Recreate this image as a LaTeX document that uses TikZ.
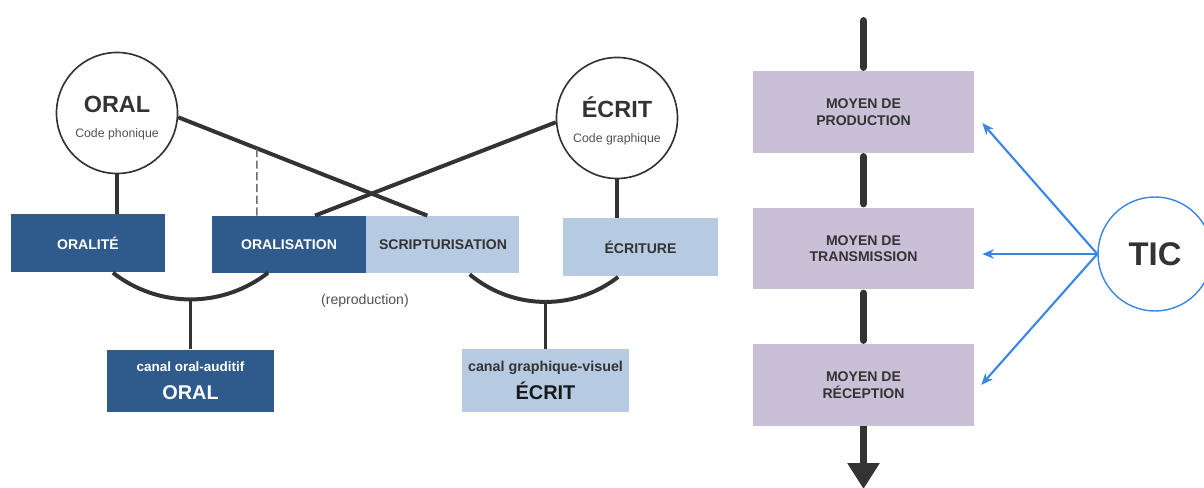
\documentclass[tikz,border=0pt]{standalone}
\usepackage{fontspec}
\setmainfont{Liberation Sans}
\usetikzlibrary{intersections,calc,arrows.meta}
\tikzset{>=Stealth}
\definecolor{darkbox}{RGB}{47,90,140}
\definecolor{lightbox}{RGB}{182,202,226}
\definecolor{mauve}{RGB}{201,192,215}
\definecolor{ink}{RGB}{51,51,51}
\definecolor{ticblue}{RGB}{58,134,232}

\begin{document}
\begin{tikzpicture}[x=0.03cm,y=-0.03cm,
  code/.style={circle,draw=ink,fill=white,line width=1.4pt,minimum size=3.63cm,inner sep=0pt,align=center,text=ink,font=\fontsize{10.5}{21}\selectfont},
  dbox/.style={fill=darkbox,text=white,minimum width=4.62cm,minimum height=1.72cm,inner sep=0pt,font=\bfseries\fontsize{12}{14}\selectfont},
  lbox/.style={dbox,fill=lightbox,text=ink},
  canal/.style={minimum width=5.01cm,minimum height=1.88cm,inner sep=0pt,align=center,font=\bfseries\fontsize{12}{24}\selectfont},
  moyen/.style={fill=mauve,text=ink,minimum width=6.63cm,minimum height=2.45cm,align=center,font=\bfseries\fontsize{12}{14}\selectfont},
  link/.style={line width=3.4pt,draw=ink},
  bar/.style={line width=6.6pt,draw=ink,line cap=round},
  ticarrow/.style={line width=1.8pt,draw=ticblue,->,>={Stealth[length=10pt,width=8pt]}}]
\useasboundingbox[fill=white] (0,0) rectangle (1204,488);

\node[code] (oral) at (117,113) {\rule{0pt}{23pt}{\bfseries\fontsize{20}{22}\selectfont ORAL}\\{\color{ink!85}Code phonique}};
\node[code] (ecrit) at (617,118) {\rule{0pt}{23pt}{\bfseries\fontsize{20}{22}\selectfont ÉCRIT}\\{\color{ink!85}Code graphique}};

\node[dbox] (oralite) at (88,243) {ORALITÉ};
\node[dbox] (oralis) at (289,244.5) {ORALISATION};
\node[lbox,anchor=west,minimum width=4.59cm] (script) at (oralis.east) {SCRIPTURISATION};
\node[lbox,minimum width=4.65cm,minimum height=1.74cm] (ecriture) at (640.5,247) {ÉCRITURE};

\node[canal,fill=darkbox,text=white] (canaloral) at (190.5,381) {{\fontsize{11.5}{13}\selectfont canal oral-auditif}\\{\fontsize{17}{19}\selectfont ORAL}};
\node[canal,fill=lightbox,text=ink] (canalecrit) at (545.5,380.5) {{\fontsize{12.2}{13}\selectfont canal graphique-visuel}\\{\fontsize{17}{19}\selectfont\color{black!90}ÉCRIT}};
\node[text=ink!85,font=\fontsize{12}{14}\selectfont] (repro) at (365,301) {(reproduction)};

\draw[link] (oral.south) -- (oral.south |- oralite.north);
\draw[link,name path=oralline] (oral.-4) -- ([xshift=-0.47cm]script.north);
\draw[link] (ecrit.184) -- ([xshift=0.78cm]oralis.north);
\draw[link] (ecrit.south) -- (ecrit.south |- ecriture.north);
\coordinate (d1) at ($(oralis.north west)+(45,0)$);
\path[name path=dashv] (d1) -- ++(0,-100);
\path[name intersections={of=oralline and dashv,by=d2}];
\draw[line width=1.3pt,draw=ink!70,dash pattern=on 7pt off 3pt] (d1) -- (d2);

\coordinate (j1) at ($(canaloral.north)+(0,-50)$);
\draw[link] (j1) arc[start angle=90,end angle=128,radius=126];
\draw[link] (j1) arc[start angle=90,end angle=52,radius=126];
\draw[link] (j1) -- (canaloral.north);
\coordinate (j2) at ($(canalecrit.north)+(0,-47)$);
\draw[link] (j2) arc[start angle=90,end angle=130,radius=118];
\draw[link] (j2) arc[start angle=90,end angle=52,radius=118];
\draw[link] (j2) -- (canalecrit.north);

\node[moyen] (prod) at (863.5,112) {MOYEN DE\\PRODUCTION};
\node[moyen] (trans) at (863.5,248.5) {MOYEN DE\\TRANSMISSION};
\node[moyen] (recep) at (863.5,385) {MOYEN DE\\RÉCEPTION};
\node[circle,draw=ticblue,fill=white,line width=1.2pt,minimum size=3.42cm,inner sep=0pt,text=ink,font=\bfseries\fontsize{28}{30}\selectfont] (tic) at (1155,254) {TIC};

\coordinate (top) at (863.5,21);
\coordinate (exit) at (863.5,489);
\draw[bar,shorten >=3.3pt] (top) -- (prod.north);
\draw[bar,shorten <=3.3pt,shorten >=3.3pt] (prod) -- (trans);
\draw[bar,shorten <=3.3pt,shorten >=3.3pt] (trans) -- (recep);
\draw[line width=6.2pt,draw=ink,-{Triangle[width=26pt,length=22pt]}] (recep) -- (exit);

\coordinate (tp) at ([xshift=0.24cm,yshift=-0.33cm]prod.east);
\coordinate (tm) at (tic.west -| tp);
\coordinate (tb) at ([xshift=0.21cm]recep.east);
\draw[ticarrow] (tic.west) -- (tp);
\draw[ticarrow] (tic.west) -- (tm);
\draw[ticarrow] (tic.west) -- (tb);
\end{tikzpicture}
\end{document}
